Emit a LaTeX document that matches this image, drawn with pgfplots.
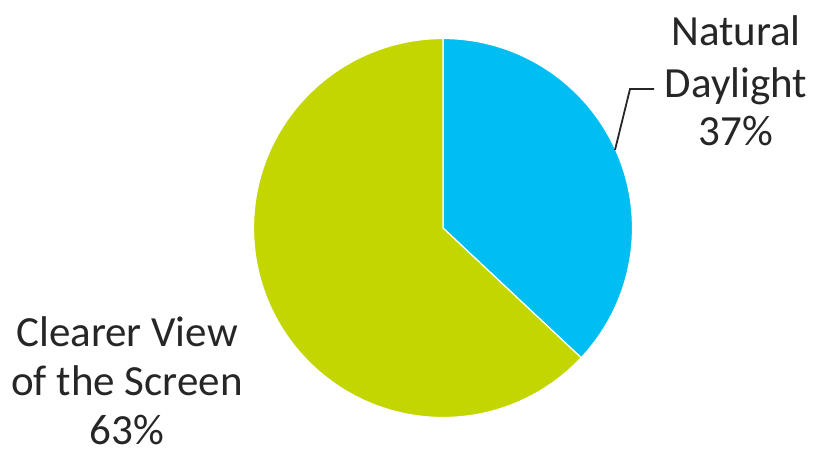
\documentclass[border=0pt]{standalone}
\usepackage{pgfplots}
\pgfplotsset{compat=1.18}
\usepackage{pgfplotstable}
\usepackage{fontspec}
\setmainfont{Carlito}
\definecolor{slblue}{HTML}{00BEF2}
\definecolor{slgreen}{HTML}{C4D600}
\definecolor{txt}{HTML}{262626}
\pgfplotstableread{
label value
Daylight 37
Screen 63
}\piedata
\pgfplotstablegetelem{0}{value}\of\piedata
\pgfmathsetmacro{\va}{\pgfplotsretval}
\pgfplotstablegetelem{1}{value}\of\piedata
\pgfmathsetmacro{\vb}{\pgfplotsretval}
\pgfmathsetmacro{\aend}{90-\va/(\va+\vb)*360}
\pgfmathsetmacro{\bend}{\aend-\vb/(\va+\vb)*360}
\def\R{94.75pt}
\begin{document}
\begin{tikzpicture}
\begin{axis}[
  scale only axis, width=409.5pt, height=226pt,
  xmin=0, xmax=819, ymin=0, ymax=452,
  axis lines=none, ticks=none, clip=false,
]
\path (axis cs:0,0) rectangle (axis cs:819,452);
\fill[slblue, draw=white, line width=0.6pt] (axis cs:443,224) -- ++(90:\R) arc[start angle=90, end angle=\aend, radius=\R] -- cycle;
\fill[slgreen, draw=white, line width=0.6pt] (axis cs:443,224) -- ++(\aend:\R) arc[start angle=\aend, end angle=\bend, radius=\R] -- cycle;
\draw[txt, line width=0.9pt] (axis cs:615,302) -- (axis cs:630,363) -- (axis cs:654,363);
\begin{scope}[every node/.style={text=txt, font=\fontsize{21.5}{25}\selectfont, anchor=base, inner sep=0pt}]
\node at (axis cs:736,407) {Natural};
\node at (axis cs:736,355) {Daylight};
\node at (axis cs:736,307) {37\%};
\node at (axis cs:127,106) {Clearer View};
\node at (axis cs:127,57) {of the Screen};
\node at (axis cs:127,8) {63\%};
\end{scope}
\end{axis}
\end{tikzpicture}
\end{document}
